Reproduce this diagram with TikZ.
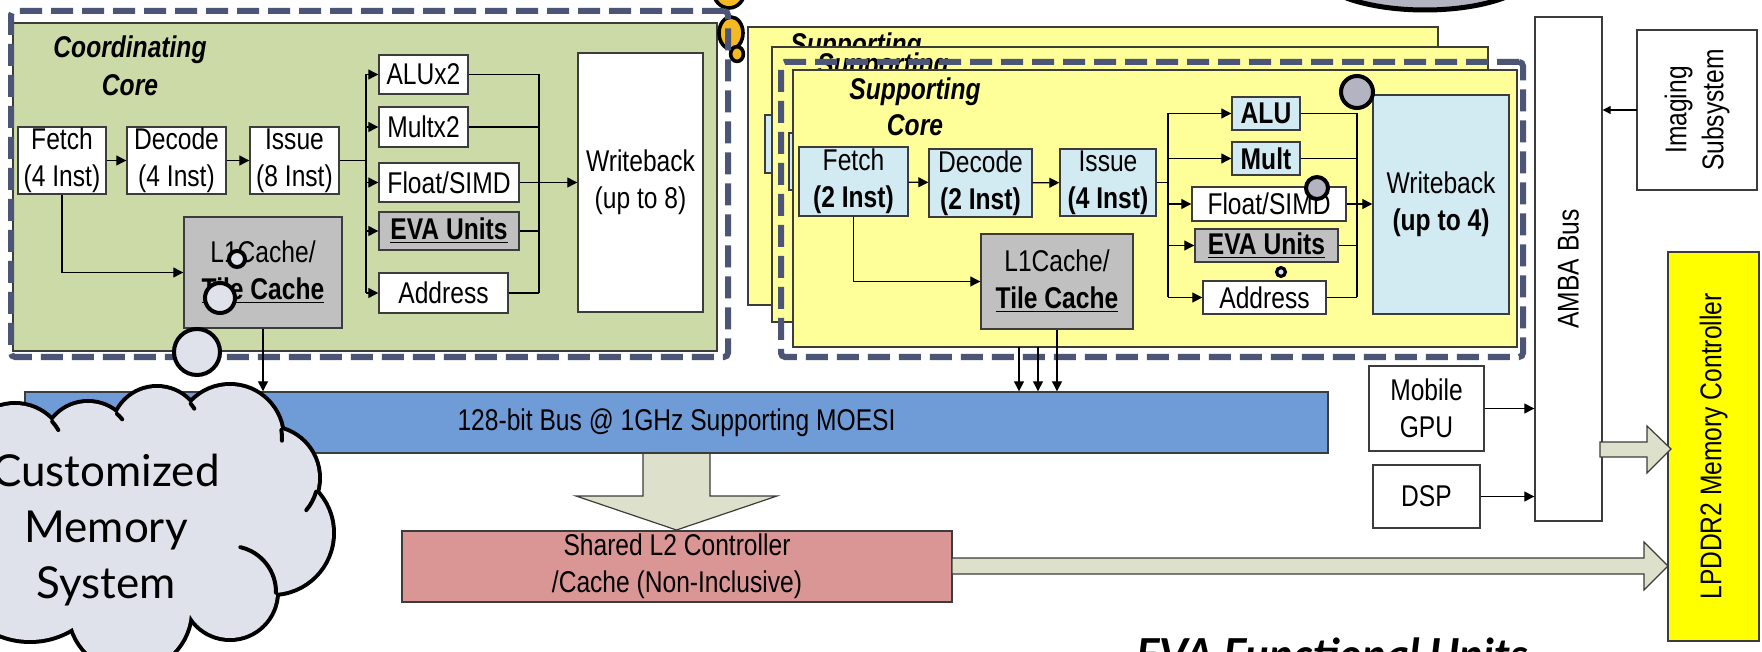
\documentclass[tikz,border=0pt]{standalone}
\usepackage{fontspec}
\setmainfont{Liberation Sans}
\newfontfamily\nar[FakeStretch=0.82]{Liberation Sans}
\newfontfamily\latof{Lato}
\usetikzlibrary{arrows.meta}
\definecolor{grn}{HTML}{CCDAA8}
\definecolor{yel}{HTML}{FFFF99}
\definecolor{lbl}{HTML}{D2EAF1}
\definecolor{gry}{HTML}{C0C0C0}
\definecolor{blu}{HTML}{6F9BD7}
\definecolor{rdd}{HTML}{D99694}
\definecolor{arrc}{HTML}{DDE1CB}
\definecolor{dashc}{HTML}{4D5577}
\definecolor{cloudc}{HTML}{DFE2EA}
\definecolor{bubg}{HTML}{B3B3C1}
\definecolor{orng}{HTML}{F5B921}
\definecolor{boxc}{HTML}{3C3C3C}
\definecolor{ylw}{HTML}{FFFF00}
\newcommand\labf{\nar\fontsize{15}{18.5}\selectfont}
\newcommand\ttlf{\nar\bfseries\itshape\fontsize{15}{18.5}\selectfont}
\tikzset{
  bx/.style={draw=boxc, line width=0.7pt, inner sep=0pt, align=center, font=\labf},
  cont/.style={draw=boxc, line width=0.7pt, inner sep=0pt},
  dsh/.style={draw=dashc, line width=3pt, dash pattern=on 11pt off 4.5pt, rounded corners=2pt, inner sep=0pt},
  ttl/.style={font=\ttlf, inner sep=0pt, anchor=base},
  ar/.style={-{Triangle[length=5pt,width=5pt]}, line width=0.6pt},
  sar/.style={-{Triangle[length=4pt,width=4pt]}, line width=0.6pt},
  ln/.style={line width=0.6pt},
  bigar/.style={fill=arrc, draw=boxc, line width=0.6pt},
  bub/.style={fill=cloudc, draw=black, line width=2pt},
  gbub/.style={fill=bubg, draw=black, line width=2pt},
  obub/.style={fill=orng, draw=black, line width=1.8pt},
  cln/.style={draw=black, line width=2pt, line cap=round},
}
\begin{document}
\begin{tikzpicture}[x=0.5pt,y=-0.5pt]
\useasboundingbox (0,0) rectangle (1762,652);
\clip (0,0) rectangle (1762,652);
\fill[white] (0,0) rectangle (1762,652);

% ---------- Coordinating core ----------
\node[cont, fill=grn, minimum width=352pt, minimum height=164pt] (cgreen) at (365,187) {};
\draw[obub] (729,-10) ellipse [x radius=8pt, y radius=9pt];
\draw[obub] (731,33) ellipse [x radius=6pt, y radius=8pt];
\draw[obub] (737,54) ellipse [x radius=3.2pt, y radius=3.7pt];
\node[dsh, minimum width=358.5pt, minimum height=173pt] (cdash) at (369.5,184) {};
\node[ttl] (ctt1) at (130,58) {Coordinating};
\node[ttl] (ctt2) at (130,96) {Core};

\node[bx, fill=white, minimum width=44pt, minimum height=33.5pt] (cfetch) at (62,160.5) {Fetch\\(4 Inst)};
\node[bx, fill=white, minimum width=49.5pt, minimum height=33.5pt] (cdec) at (176.5,160.5) {Decode\\(4 Inst)};
\node[bx, fill=white, minimum width=44.5pt, minimum height=33.5pt] (ciss) at (294.5,160.5) {Issue\\(8 Inst)};
\node[bx, fill=white, minimum width=44.5pt, minimum height=19.5pt] (calu) at (423.5,74.5) {ALUx2};
\node[bx, fill=white, minimum width=44.5pt, minimum height=20pt] (cmul) at (423.5,127) {Multx2};
\node[bx, fill=white, minimum width=70pt, minimum height=19.5pt] (cflt) at (449,182.5) {Float/SIMD};
\node[bx, fill=gry, minimum width=70pt, minimum height=19pt] (ceva) at (449,231) {\underline{\textbf{EVA Units}}};
\node[bx, fill=white, minimum width=64.5pt, minimum height=20pt] (cadr) at (443.5,293) {Address};
\node[bx, fill=white, minimum width=62.5pt, minimum height=129.5pt] (cwb) at (640.5,182.5) {Writeback\\(up to 8)};
\node[bx, fill=gry, minimum width=79pt, minimum height=55.5pt] (cl1) at (263,272.5) {L1Cache/\\\underline{\textbf{Tile Cache}}};

\draw[ar] (cfetch) -- (cdec);
\draw[ar] (cdec) -- (ciss);
\coordinate (cdx) at (366,160.5);
\draw[ln] (ciss.east) -- (cdx);
\draw[ln] (cdx |- calu.west) -- (cdx |- cadr.west);
\foreach \n in {calu,cmul,cflt,ceva,cadr} \draw[ar] (cdx |- \n.west) -- (\n.west);
\coordinate (ccx) at (539,182);
\foreach \n in {calu,cmul,ceva,cadr} \draw[ln] (\n.east) -- (ccx |- \n.east);
\draw[ln] (ccx |- calu.east) -- (ccx |- cadr.east);
\draw[ar] (cflt.east) -- (cwb.west |- cflt.east);
\draw[ar] (cfetch.south) |- (cl1.west);

% ---------- Supporting cores ----------
\node[cont, fill=yel, minimum width=345pt, minimum height=139pt] (sly1) at (1093,166) {};
\node[ttl] (stt0) at (856,55) {Supporting};
\node[bx, fill=lbl, minimum width=55pt, minimum height=29pt] (sfb1) at (820,144) {};
\node[cont, fill=yel, minimum width=358pt, minimum height=137.5pt] (sly2) at (1130,184.5) {};
\node[ttl] (stt9) at (883,75) {Supporting};
\node[bx, fill=lbl, minimum width=55pt, minimum height=28.5pt] (sfb2) at (844,161.5) {};
\node[dsh, minimum width=371pt, minimum height=147.5pt] (sdash) at (1152,209.5) {};
\node[cont, fill=yel, minimum width=362pt, minimum height=138.5pt] (sfront) at (1155,208.5) {};
\node[ttl] (stt1) at (915,100) {Supporting};
\node[ttl] (stt2) at (915,136) {Core};

\node[bx, fill=lbl, minimum width=54.5pt, minimum height=34.5pt] (sfetch) at (853.5,181.5) {Fetch\\\textbf{(2 Inst)}};
\node[bx, fill=lbl, minimum width=51.5pt, minimum height=34pt] (sdec) at (980.5,183) {Decode\\\textbf{(2 Inst)}};
\node[bx, fill=lbl, minimum width=48pt, minimum height=33.5pt] (siss) at (1108,182.5) {Issue\\\textbf{(4 Inst)}};
\node[bx, fill=gry, minimum width=76pt, minimum height=47.5pt] (sl1) at (1057,281.5) {L1Cache/\\\underline{\textbf{Tile Cache}}};
\node[bx, fill=lbl, minimum width=34pt, minimum height=16.5pt] (salu) at (1266,113.5) {\textbf{ALU}};
\node[bx, fill=lbl, minimum width=34pt, minimum height=16.5pt] (smul) at (1266,158.5) {\textbf{Mult}};
\node[bx, fill=white, minimum width=77pt, minimum height=17pt] (sflt) at (1269,204) {Float/SIMD};
\node[bx, fill=gry, minimum width=71.5pt, minimum height=16.5pt] (seva) at (1266.5,245.5) {\underline{\textbf{EVA Units}}};
\node[bx, fill=white, minimum width=61.5pt, minimum height=16.5pt] (sadr) at (1264.5,297.5) {Address};
\node[bx, fill=lbl, minimum width=68pt, minimum height=109.5pt] (swb) at (1441,204.5) {Writeback\\\textbf{(up to 4)}};

\draw[ar] (sfetch) -- (sdec);
\draw[ar] (sdec) -- (siss);
\coordinate (sdx) at (1168,182.5);
\draw[ln] (siss.east) -- (sdx);
\draw[ln] (sdx |- salu.west) -- (sdx |- sadr.west);
\foreach \n in {salu,smul,sflt,seva,sadr} \draw[ar] (sdx |- \n.west) -- (\n.west);
\coordinate (scx) at (1357,204);
\foreach \n in {salu,smul,seva,sadr} \draw[ln] (\n.east) -- (scx |- \n.east);
\draw[ln] (scx |- salu.east) -- (scx |- sadr.east);
\draw[ar] (sflt.east) -- (swb.west |- sflt.east);
\draw[ar] (sfetch.south) |- (sl1.west);

% ---------- Buses and memory ----------
\draw[bigar] (643,453) -- (710,453) -- (710,496) -- (777,496) -- (676.5,530) -- (576,496) -- (643,496) -- cycle;
\node[bx, fill=blu, minimum width=651.5pt, minimum height=30.5pt] (bus) at (676.5,422.5) {128-bit Bus @ 1GHz Supporting MOESI};
\node[bx, fill=rdd, minimum width=275pt, minimum height=35.5pt] (l2) at (677,566.5) {Shared L2 Controller\\/Cache (Non-Inclusive)};
\draw[ar] (cl1.south) -- (cl1.south |- bus.north);
\coordinate (sb1) at (1019,347);
\coordinate (sb2) at (1038,347);
\draw[ar] (sb1) -- (sb1 |- bus.north);
\draw[ar] (sb2) -- (sb2 |- bus.north);
\draw[ar] (sl1.south) -- (sl1.south |- bus.north);

\node[cont, fill=white, minimum width=33.5pt, minimum height=252pt] (amba) at (1568.5,269) {};
\node[rotate=90, font=\labf, inner sep=0pt] (ambat) at (amba) {AMBA Bus};
\node[cont, fill=white, minimum width=60pt, minimum height=80pt] (img) at (1697,110) {};
\node[rotate=90, font=\labf, inner sep=0pt, align=center] (imgt) at (img) {Imaging\\Subsystem};
\node[cont, fill=ylw, minimum width=45.5pt, minimum height=194.5pt] (lpddr) at (1713.5,446.5) {};
\node[rotate=90, font=\labf, inner sep=0pt] (lpddrt) at (lpddr) {LPDDR2 Memory Controller};
\node[bx, fill=white, minimum width=57.5pt, minimum height=42.5pt] (gpu) at (1426.5,408.5) {Mobile\\GPU};
\node[bx, fill=white, minimum width=53.5pt, minimum height=31.5pt] (dsp) at (1426.5,496.5) {DSP};
\draw[ar] (gpu.east) -- (gpu.east -| amba.west);
\draw[ar] (dsp.east) -- (dsp.east -| amba.west);
\coordinate (imp) at (1637,110);
\draw[sar] (imp) -- (imp -| amba.east);
\draw[bigar] (1600,442) -- (1647,442) -- (1647,426) -- (1671,449) -- (1647,473) -- (1647,457) -- (1600,457) -- cycle;
\draw[bigar] (952,558) -- (1644,558) -- (1644,542) -- (1668,566) -- (1644,590) -- (1644,574) -- (952,574) -- cycle;

\node[font=\latof\bfseries\itshape\fontsize{22}{26}\selectfont, anchor=base, inner sep=0pt] (evaf) at (1332,670) {EVA Functional Units};

% ---------- Thought bubbles ----------
\draw[gbub, line width=2.5pt] (1425,-30) ellipse [x radius=55pt, y radius=20pt];
\draw[gbub] (1357,92) circle [radius=8pt];
\draw[gbub] (1317,188) circle [radius=5.5pt];
\draw[fill=cloudc, draw=black, line width=1.6pt] (1281,272) circle [radius=2.2pt];

% cloud
\foreach \cx/\cy/\r in {15/455/25, 88/447/22, 157/432/22, 230/438/26, 268/478/25, 272/533/30, 230/592/23, 130/610/30, 30/560/40, 150/520/50}
  \draw[black, line width=4pt] (\cx,\cy) circle [radius=\r pt];
\foreach \cx/\cy/\r in {15/455/25, 88/447/22, 157/432/22, 230/438/26, 268/478/25, 272/533/30, 230/592/23, 130/610/30, 30/560/40, 150/520/50}
  \fill[cloudc] (\cx,\cy) circle [radius=\r pt];
\draw[cln] (15,455) ++(42:25pt) arc [start angle=42, end angle=30, radius=25pt];
\draw[cln] (88,447) ++(49:22pt) arc [start angle=49, end angle=39, radius=22pt];
\draw[cln] (157,432) ++(40:22pt) arc [start angle=40, end angle=32, radius=22pt];
\draw[cln] (230,438) ++(9:26pt) arc [start angle=9, end angle=-3, radius=26pt];
\draw[cln] (268,478) ++(-16:25pt) arc [start angle=-16, end angle=-40, radius=25pt];
\draw[cln] (230,592) ++(-1:23pt) arc [start angle=-1, end angle=77, radius=23pt];
\node[font=\latof\fontsize{22}{28}\selectfont, align=center, inner sep=0pt] (cloudt) at (106,530) {Customized\\Memory\\System};

\draw[bub] (197,352) circle [radius=11.5pt];
\draw[bub] (220,298) circle [radius=7.5pt];
\draw[bub] (237,259) circle [radius=4pt];
\end{tikzpicture}
\end{document}
